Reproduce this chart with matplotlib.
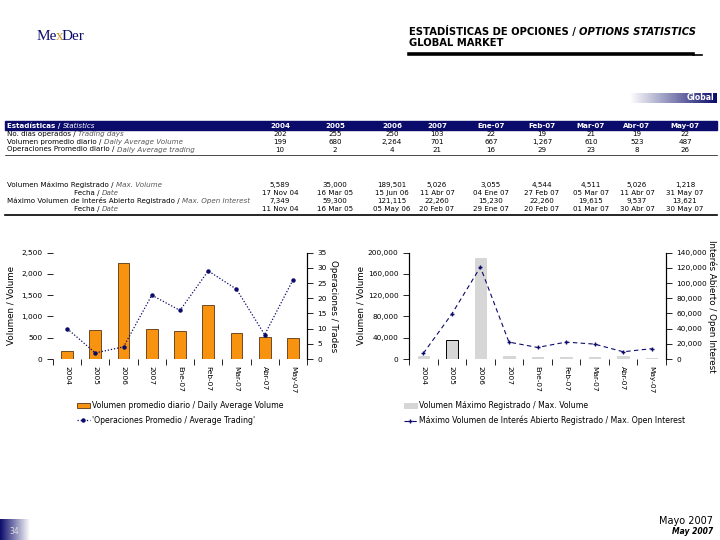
import numpy as np
import matplotlib
matplotlib.use("Agg")
import matplotlib.pyplot as plt
from matplotlib.patches import Rectangle

# ---- data ----
periods = ["2004", "2005", "2006", "2007", "Ene-07", "Feb-07", "Mar-07", "Abr-07", "May-07"]
trading_days = ["202", "255", "250", "103", "22", "19", "21", "19", "22"]
daily_avg_volume = [199, 680, 2264, 701, 667, 1267, 610, 523, 487]
avg_trades = [10, 2, 4, 21, 16, 29, 23, 8, 26]
max_volume = [5589, 35000, 189501, 5026, 3055, 4544, 4511, 5026, 1218]
max_volume_date = ["17 Nov 04", "16 Mar 05", "15 Jun 06", "11 Abr 07", "04 Ene 07",
                   "27 Feb 07", "05 Mar 07", "11 Abr 07", "31 May 07"]
max_oi = [7349, 59300, 121115, 22260, 15230, 22260, 19615, 9537, 13621]
max_oi_date = ["11 Nov 04", "16 Mar 05", "05 May 06", "20 Feb 07", "29 Ene 07",
               "20 Feb 07", "01 Mar 07", "30 Abr 07", "30 May 07"]

NAVY = "#0b0b6b"
ORANGE = "#f7930f"
GREY = "#d6d6d6"
W, H = 720, 540

fig = plt.figure(figsize=(7.2, 5.4), dpi=100)


def fx(x):
    return x / W


def fy(y):
    return 1 - y / H


def after(t, gap=0):
    # x position (fig fraction) right after a drawn text
    fig.canvas.draw()
    return (t.get_window_extent().x1 + gap) / W


def gradient(x0, y0, x1, y1, reverse=False):
    gax = fig.add_axes([fx(x0), fy(y1), fx(x1 - x0), (y1 - y0) / H])
    g = np.linspace(0, 1, 256)[None, :]
    if reverse:
        g = g[:, ::-1]
    cmap = matplotlib.colors.LinearSegmentedColormap.from_list("g", ["white", NAVY])
    gax.imshow(g, aspect="auto", cmap=cmap, extent=[0, 1, 0, 1])
    gax.axis("off")
    return gax


# ---- header ----
logo = dict(fontsize=11, family="Liberation Serif", va="center")
t = fig.text(fx(37), fy(36), "Me", color=NAVY, **logo)
t = fig.text(after(t, -1.5), fy(36), "x", color="#c8962a", **logo)
fig.text(after(t, -1.5), fy(36), "Der", color=NAVY, **logo)

hdr_font = dict(fontsize=7.2, family="DejaVu Sans", fontweight="bold", va="center")
t1 = fig.text(fx(409), fy(32), "ESTADÍSTICAS DE OPCIONES / ", **hdr_font)
fig.text(after(t1), fy(32), "OPTIONS STATISTICS", style="italic", **hdr_font)
fig.text(fx(409), fy(43), "GLOBAL MARKET", **hdr_font)
fig.add_artist(plt.Line2D([fx(409), fx(693)], [fy(54), fy(54)], color="black", lw=2.6))
fig.add_artist(plt.Line2D([fx(693), fx(702)], [fy(54.6), fy(54.6)], color="black", lw=1.2))

gradient(630, 93, 717, 103)
fig.text(fx(714), fy(98), "Global", color="white", fontsize=5.5, fontweight="bold",
         ha="right", va="center")

# ---- table ----
col_x = [280, 335, 392, 437, 491, 542, 591, 637, 685]
tfam = ["Liberation Sans Narrow", "DejaVu Sans"]
tsize = 5.1
fig.add_artist(Rectangle((fx(5), fy(130)), fx(712), 9 / H, color=NAVY, transform=fig.transFigure))
t = fig.text(fx(7), fy(126), "Estadísticas / ", color="white", fontsize=tsize, family=tfam,
             fontweight="bold", va="center")
fig.text(after(t), fy(126), "Statistics", color="white", fontsize=tsize, family=tfam,
         style="italic", va="center")
for x, p in zip(col_x, periods):
    fig.text(fx(x), fy(126), p, color="white", fontsize=tsize, family=tfam,
             fontweight="bold", ha="center", va="center")


def row(y, label, label_it, values, label_x=7):
    t = fig.text(fx(label_x), fy(y), label, fontsize=tsize, family=tfam, va="center")
    fig.text(after(t), fy(y), label_it, fontsize=tsize, family=tfam, style="italic",
             color="#555555", va="center")
    for x, v in zip(col_x, values):
        fig.text(fx(x), fy(y), v, fontsize=tsize, family=tfam, ha="center", va="center")


row(134, "No. días operados / ", "Trading days", trading_days)
row(142, "Volumen promedio diario / ", "Daily Average Volume",
    [f"{v:,}" for v in daily_avg_volume])
row(149.5, "Operaciones Promedio diario / ", "Daily Average trading",
    [str(v) for v in avg_trades])
fig.add_artist(plt.Line2D([fx(5), fx(717)], [fy(155), fy(155)], color="black", lw=0.5))

row(185, "Volumen Máximo Registrado / ", "Max. Volume", [f"{v:,}" for v in max_volume])
row(193, "Fecha / ", "Date", max_volume_date, label_x=74)
row(201, "Máximo Volumen de Interés Abierto Registrado / ", "Max. Open Interest",
    [f"{v:,}" for v in max_oi])
row(209, "Fecha / ", "Date", max_oi_date, label_x=74)
fig.add_artist(plt.Line2D([fx(5), fx(717)], [fy(215), fy(215)], color="black", lw=1.2))

# ---- charts ----
x = np.arange(len(periods))
tick_fs = 5.3
fmt = matplotlib.ticker.FuncFormatter(lambda v, p: f"{int(v):,}")


def style_axes(ax, axr):
    ax.set_xlim(-0.5, len(periods) - 0.5)
    ax.set_xticks(x)
    ax.set_xticklabels(periods, rotation=-90, fontsize=tick_fs)
    ax.tick_params(axis="x", length=0, pad=5)
    ax.set_xticks(np.arange(len(periods) + 1) - 0.5, minor=True)
    ax.tick_params(axis="x", which="minor", length=4, width=0.6)
    ax.tick_params(axis="y", labelsize=tick_fs, length=4, width=0.6)
    axr.tick_params(axis="y", labelsize=tick_fs, length=4, width=0.6)
    ax.yaxis.set_major_formatter(fmt)
    axr.yaxis.set_major_formatter(fmt)
    for a in (ax, axr):
        a.spines["top"].set_visible(False)
        a.spines["bottom"].set_visible(False)
    ax.patch.set_visible(False)


leg_kw = dict(loc="upper left", frameon=False, fontsize=5.6, handlelength=1.6,
              handleheight=0.6, labelspacing=0.75, borderaxespad=0, handletextpad=0.3)

# left chart
ax1 = fig.add_axes([fx(53), fy(359), fx(254), 106.3 / H])
ax1r = ax1.twinx()
bars1 = ax1.bar(x, daily_avg_volume, width=0.42, color=ORANGE, edgecolor="#3a1800", lw=0.5,
                label="Volumen promedio diario / Daily Average Volume")
line1, = ax1r.plot(x, avg_trades, color=NAVY, ls=(0, (1, 1.5)), lw=0.9, marker="o", ms=2.2,
                   label="'Operaciones Promedio / Average Trading'")
ax1.set_ylim(0, 2500)
ax1.set_yticks(range(0, 2501, 500))
ax1r.set_ylim(0, 35)
ax1r.set_yticks(range(0, 36, 5))
ax1.spines["left"].set_visible(False)
ax1r.spines["left"].set_visible(False)
ax1r.spines["right"].set_linewidth(0.8)
style_axes(ax1, ax1r)
ax1.set_ylabel("Volumen / Volume", fontsize=6.3, labelpad=4)
ax1r.set_ylabel("Operaciones / Trades", fontsize=6.3, rotation=-90, labelpad=8)
fig.legend([bars1, line1], [bars1.get_label(), line1.get_label()],
           bbox_to_anchor=(fx(74), fy(398)), **leg_kw)

# right chart
ax2 = fig.add_axes([fx(409), fy(359), fx(257), 106.3 / H])
ax2r = ax2.twinx()
edges = ["black" if i == 1 else GREY for i in range(len(periods))]
bars2 = ax2.bar(x, max_volume, width=0.4, color=GREY, edgecolor=edges, lw=0.7,
                label="Volumen Máximo Registrado / Max. Volume")
line2, = ax2r.plot(x, max_oi, color=NAVY, ls=(0, (4, 3)), lw=0.8, marker="+", ms=3.5,
                   mew=1.0, label="Máximo Volumen de Interés Abierto Registrado / Max. Open Interest")
ax2.set_ylim(0, 200000)
ax2.set_yticks(range(0, 200001, 40000))
ax2r.set_ylim(0, 140000)
ax2r.set_yticks(range(0, 140001, 20000))
for a in (ax2, ax2r):
    a.spines["left"].set_linewidth(0.8)
    a.spines["right"].set_linewidth(0.8)
style_axes(ax2, ax2r)
ax2.set_ylabel("Volumen / Volume", fontsize=6.3, labelpad=2)
ax2r.set_ylabel("Interés Abierto / Open Interest", fontsize=6.3, rotation=-90, labelpad=7)
fig.legend([bars2, line2], [bars2.get_label(), line2.get_label()],
           bbox_to_anchor=(fx(401), fy(398)), **leg_kw)

# ---- footer ----
fig.text(fx(713), fy(521), "Mayo 2007", fontsize=7, ha="right", va="center")
fig.text(fx(713), fy(532), "May 2007", fontsize=5.5, style="italic", fontweight="bold",
         ha="right", va="center")
gradient(0, 519, 30, 540, reverse=True)
fig.text(fx(9), fy(531), "34", color="#dddddd", fontsize=5.5, va="center")

fig.savefig("out.png", dpi=100)
